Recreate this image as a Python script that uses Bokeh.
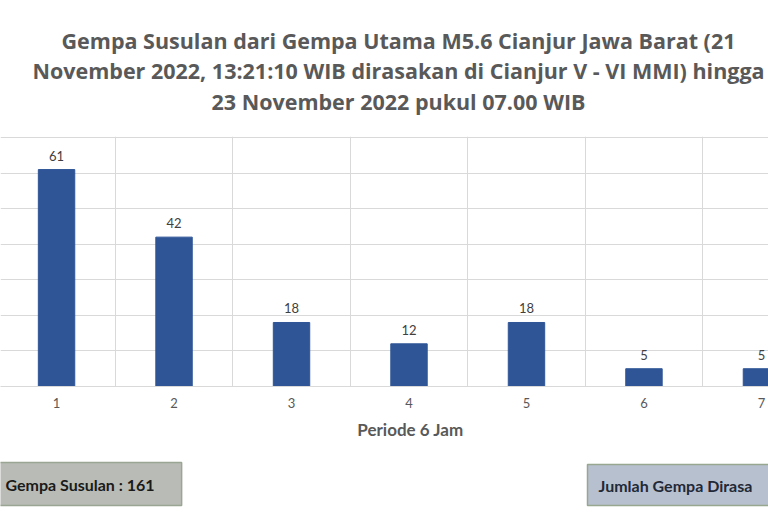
from bokeh.plotting import figure
from bokeh.layouts import column
from bokeh.models import Range1d, FixedTicker, ColumnDataSource, LabelSet, Label
from bokeh.core.properties import value
from bokeh.embed import file_html
from bokeh.resources import INLINE

# ---- data ----
periods = [1, 2, 3, 4, 5, 6, 7]
counts = [61, 42, 18, 12, 18, 5, 5]
y_ticks = [0, 10, 20, 30, 40, 50, 60, 70]
title_lines = [
    "Gempa Susulan dari Gempa Utama M5.6 Cianjur Jawa Barat (21",
    "November 2022, 13:21:10 WIB dirasakan di Cianjur V - VI MMI) hingga",
    "23 November 2022 pukul 07.00 WIB",
]
x_label = "Periode 6 Jam"
total_text = "Gempa Susulan : %d" % sum(counts)
felt_text = "Jumlah Gempa Dirasa"

FONT = "Lato"
TFONT = "Open Sans"
W = 768


def blank(height):
    f = figure(width=W, height=height, output_backend="svg", toolbar_location=None,
               title=None, x_range=Range1d(0, 1), y_range=Range1d(0, 1),
               x_axis_location=None, y_axis_location=None,
               min_border=0)
    f.outline_line_color = None
    f.xgrid.visible = False
    f.ygrid.visible = False
    f.background_fill_color = "white"
    f.border_fill_color = "white"
    return f


# ---- title strip ----
t = blank(136)
for txt, yy in zip(title_lines, [96, 66, 35]):
    t.add_layout(Label(x=398, y=yy, x_units="screen", y_units="screen", text=txt,
                       text_align="center", text_baseline="middle",
                       text_font=TFONT, text_font_size="21.5px",
                       text_font_style="bold", text_color="#595959"))

# ---- main chart ----
p = figure(width=W, height=279, output_backend="svg", toolbar_location=None,
           title=None,
           x_range=Range1d(0.523, 7.06), y_range=Range1d(0, 70.3),
           y_axis_location=None,
           min_border_left=0, min_border_right=0,
           min_border_top=0, min_border_bottom=29)
p.outline_line_color = None
p.background_fill_color = "white"
p.border_fill_color = "white"

src = ColumnDataSource(dict(x=periods, top=counts, label=[str(c) for c in counts]))
p.vbar(x="x", top="top", width=0.31, source=src, fill_color="#2f5597",
       line_color="#2f5597")

p.add_layout(LabelSet(x="x", y="top", text="label", source=src, y_offset=9,
                      text_align="center", text_baseline="bottom",
                      text_font=value(FONT), text_font_size="13px",
                      text_color="#404040"))

p.xgrid.ticker = FixedTicker(ticks=[v + 0.5 for v in periods[:-1]])
p.ygrid.ticker = FixedTicker(ticks=y_ticks)
p.xgrid.grid_line_color = "#d9d9d9"
p.ygrid.grid_line_color = "#d9d9d9"

ax = p.xaxis[0]
ax.ticker = FixedTicker(ticks=periods)
ax.axis_line_color = "#d9d9d9"
ax.major_tick_line_color = None
ax.minor_tick_line_color = None
ax.major_label_text_font = FONT
ax.major_label_text_font_size = "13px"
ax.major_label_text_color = "#595959"
ax.major_label_standoff = 5

# ---- axis title + summary boxes ----
b = blank(97)
b.add_layout(Label(x=410, y=83, x_units="screen", y_units="screen", text=x_label,
                   text_align="center", text_baseline="middle",
                   text_font=FONT, text_font_size="17px", text_font_style="bold",
                   text_color="#595959"))
b.add_layout(Label(x=-5, y=28.5, x_units="screen", y_units="screen", text=total_text,
                   text_align="left", text_baseline="middle",
                   text_font=FONT, text_font_size="16px", text_font_style="bold",
                   text_color="#1a1a1a",
                   background_fill_color="#b9bcb6", border_line_color="#9ba593",
                   border_line_width=1.5,
                   padding=dict(left=10, right=27, top=12, bottom=12)))
b.add_layout(Label(x=587, y=27.5, x_units="screen", y_units="screen", text=felt_text,
                   text_align="left", text_baseline="middle",
                   text_font=FONT, text_font_size="16px", text_font_style="bold",
                   text_color="#1f2937",
                   background_fill_color="#b7c0cf", border_line_color="#98a78f",
                   border_line_width=1.5,
                   padding=dict(left=11, right=30, top=11, bottom=11)))

layout = column(t, p, b, spacing=0)
open("out.html", "w").write(file_html(layout, INLINE))
